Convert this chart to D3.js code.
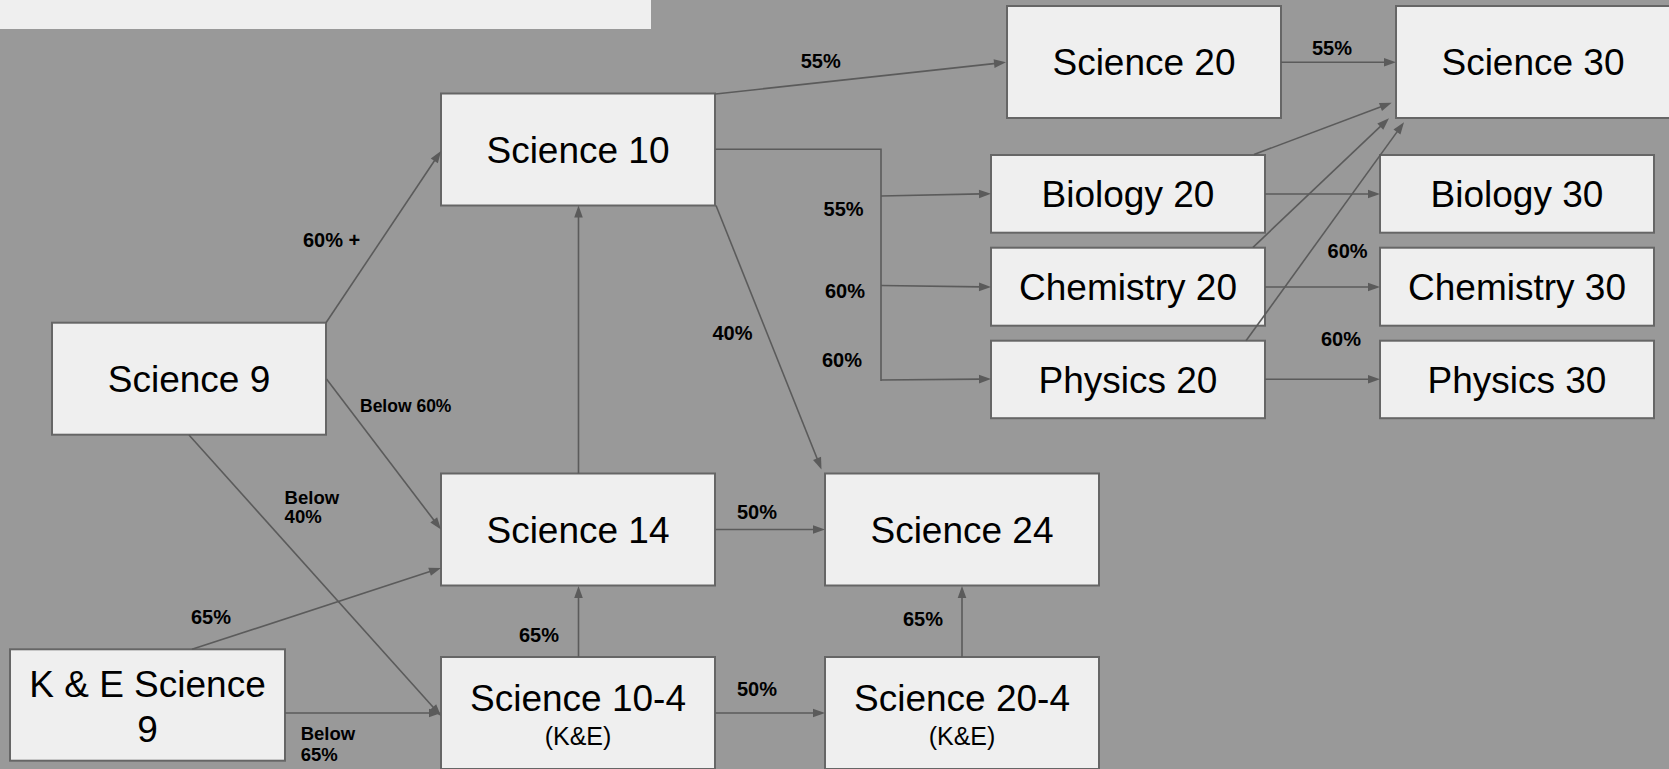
<!DOCTYPE html>
<html>
<head>
<meta charset="utf-8">
<script src="https://cdn.jsdelivr.net/npm/d3@7"></script>
<style>
html,body{margin:0;padding:0;background:#999999;overflow:hidden}
svg{display:block}
</style>
</head>
<body>
<svg id="chart" width="1669" height="769"></svg>
<script>
// ---------- DATA ----------
const courses = ["Science 9","K & E Science 9","Science 10","Science 14","Science 10-4","Science 24",
  "Science 20-4","Science 20","Science 30","Biology 20","Chemistry 20","Physics 20",
  "Biology 30","Chemistry 30","Physics 30"];
const courseLines = {"K & E Science 9":["K & E Science","9"]};
const courseNotes = {"Science 10-4":"(K&E)","Science 20-4":"(K&E)"};

const pathFrom = ["Science 9","Science 9","Science 9","K & E Science 9","K & E Science 9",
  "Science 10-4","Science 14","Science 14","Science 10-4","Science 20-4","Science 10",
  "Science 10","Science 20","Science 10","Science 10","Science 10","Biology 20",
  "Chemistry 20","Physics 20","Biology 20","Chemistry 20","Physics 20"];
const pathTo = ["Science 10","Science 14","Science 10-4","Science 14","Science 10-4",
  "Science 14","Science 10","Science 24","Science 20-4","Science 24","Science 24",
  "Science 20","Science 30","Biology 20","Chemistry 20","Physics 20","Biology 30",
  "Chemistry 30","Physics 30","Science 30","Science 30","Science 30"];
const pathLabel = ["60% +","Below 60%","Below\n40%","65%","Below\n65%",
  "65%","","50%","50%","65%","40%",
  "55%","55%","55%","60%","60%","",
  "60%","60%","","",""];

// ---------- LAYOUT (positions & sizes) ----------
const W = 1669, H = 769;
const BW = 274, BH = 112, SH = 78;
const boxPos = {
  "Science 9":      [52, 322.7, BW, BH],
  "K & E Science 9":[10, 649.3, 275, 111.4],
  "Science 10":     [441, 93.5, BW, BH],
  "Science 14":     [441, 473.5, BW, BH],
  "Science 10-4":   [441, 657, BW, BH],
  "Science 24":     [825, 473.5, BW, BH],
  "Science 20-4":   [825, 657, BW, BH],
  "Science 20":     [1007, 6, BW, BH],
  "Science 30":     [1396, 6, BW, BH],
  "Biology 20":     [991, 155, BW, 77.7],
  "Chemistry 20":   [991, 247.7, BW, SH],
  "Physics 20":     [991, 340.7, BW, 77.5],
  "Biology 30":     [1380, 155, BW, 77.7],
  "Chemistry 30":   [1380, 247.7, BW, SH],
  "Physics 30":     [1380, 340.7, BW, 77.5]
};
// route of each pathway (start ... arrow tip)
const routes = [
  [[326,322.7],[441,151]],
  [[326.5,379],[441,529.5]],
  [[189,435],[441,716]],
  [[192,649.3],[441,568]],
  [[285,713],[441,713]],
  [[578.5,657],[578.5,586]],
  [[578.5,473.5],[578.5,205.5]],
  [[715.5,529.5],[825,529.5]],
  [[715.5,713],[825,713]],
  [[962,657],[962,586]],
  [[716,205.5],[821.5,469.5]],
  [[715.5,94],[1006,62.3]],
  [[1281,62.3],[1396,62.3]],
  [[881,196],[991,193.7]],
  [[881,285.5],[991,287]],
  [[881,380],[991,379]],
  [[1265,194],[1380,194]],
  [[1265,287],[1380,287]],
  [[1265,379.3],[1380,379.3]],
  [[1254,154.5],[1391.7,102.7]],
  [[1253,247.3],[1389,118.3]],
  [[1246,340.7],[1404,122.3]]
];
const bracket = [[715.5,149.3],[881,149.3],[881,381]];
// label anchor: [x (left), first baseline, font size, line height]
const labelPos = [
  [303,247,20,0],
  [360,412,17.5,0],
  [284.6,504,18.5,18.7],
  [191,624,20,0],
  [300.7,740,18.5,21],
  [519,642,20,0],
  null,
  [737,519,20,0],
  [737,695.5,20,0],
  [903,626,20,0],
  [712.4,339.5,20,0],
  [800.7,68,20,0],
  [1312,55,20,0],
  [823.6,216,20,0],
  [825,298,20,0],
  [822,366.5,20,0],
  null,
  [1327.6,258.3,20,0],
  [1321,345.7,20,0],
  null,null,null
];

const FONT = "'Liberation Sans', Arial, Helvetica, sans-serif";
const LINE = "#5b5b5b";

const svg = d3.select("#chart");
svg.append("rect").attr("x",0).attr("y",0).attr("width",W).attr("height",H).attr("fill","#999999");

// title placeholder strip
svg.append("rect").attr("x",0).attr("y",0).attr("width",651).attr("height",29).attr("fill","#efefef");

// ---------- boxes ----------
const gBoxes = svg.append("g");
const box = gBoxes.selectAll("g.box").data(courses).join("g").attr("class","box");
box.append("rect")
  .attr("x", d => boxPos[d][0]).attr("y", d => boxPos[d][1])
  .attr("width", d => boxPos[d][2]).attr("height", d => boxPos[d][3])
  .attr("fill","#efefef").attr("stroke","#666666").attr("stroke-width",2);

const MAIN = 37, SUB = 25;
box.each(function(d){
  const [bx,by,bw,bh] = boxPos[d];
  const cx = bx + bw/2, cy = by + bh/2;
  const g = d3.select(this);
  const lines = courseLines[d] || [d];
  const note = courseNotes[d];
  let baselines;
  if (lines.length === 2) baselines = [cy - 8.3, cy + 36.7];
  else if (note) baselines = [cy - 2.5];
  else baselines = [cy + MAIN*0.36];
  lines.forEach((t,i) => {
    g.append("text").attr("x",cx).attr("y",baselines[i])
      .attr("text-anchor","middle").attr("font-family",FONT)
      .attr("font-size",MAIN).attr("fill","#000").text(t);
  });
  if (note) {
    g.append("text").attr("x",cx).attr("y",cy + 31.5)
      .attr("text-anchor","middle").attr("font-family",FONT)
      .attr("font-size",SUB).attr("fill","#000").text(note);
  }
});

// ---------- connectors ----------
const line = d3.line();
const gLinks = svg.append("g");
gLinks.append("path").attr("d", line(bracket)).attr("fill","none")
  .attr("stroke",LINE).attr("stroke-width",1.6);

const AL = 12, AW = 4.3;
pathFrom.forEach((f,i) => {
  const pts = routes[i].map(p => p.slice());
  const n = pts.length;
  const tip = pts[n-1], prev = pts[n-2];
  const dx = tip[0]-prev[0], dy = tip[1]-prev[1];
  const len = Math.hypot(dx,dy), ux = dx/len, uy = dy/len;
  const base = [tip[0]-ux*AL, tip[1]-uy*AL];
  const shaft = pts.slice(0,n-1).concat([[tip[0]-ux*(AL-2), tip[1]-uy*(AL-2)]]);
  gLinks.append("path").attr("d", line(shaft)).attr("fill","none")
    .attr("stroke",LINE).attr("stroke-width",1.6)
    .attr("data-from",f).attr("data-to",pathTo[i]);
  const px = -uy, py = ux;
  gLinks.append("path")
    .attr("d", line([tip,[base[0]+px*AW, base[1]+py*AW],[base[0]-px*AW, base[1]-py*AW]]) + "Z")
    .attr("fill",LINE);
});

// ---------- labels ----------
const gLab = svg.append("g");
pathLabel.forEach((lab,i) => {
  if (!lab || !labelPos[i]) return;
  const [lx,ly,fs,lh] = labelPos[i];
  const t = gLab.append("text").attr("x",lx).attr("y",ly)
    .attr("font-family",FONT).attr("font-weight","bold")
    .attr("font-size",fs).attr("fill","#000");
  lab.split("\n").forEach((s,k) => {
    t.append("tspan").attr("x",lx).attr("y", ly + k*lh).text(s);
  });
});
</script>
</body>
</html>
